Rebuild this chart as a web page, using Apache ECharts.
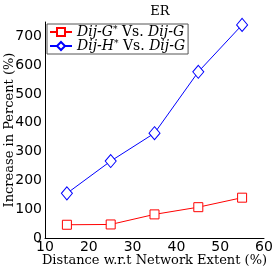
<!DOCTYPE html>
<html><head><meta charset="utf-8">
<script src="https://cdn.jsdelivr.net/npm/echarts@6/dist/echarts.min.js"></script>
<style>html,body{margin:0;padding:0;background:#fff}#c{width:274px;height:268px}</style>
</head><body><div id="c"></div>
<script>
const xValues = [15, 25, 35, 45, 55];
const seriesNames = ['Dij-G* Vs. Dij-G', 'Dij-H* Vs. Dij-G'];
const dijGStar = [46, 47, 82, 107, 140];
const dijHStar = [155, 267, 364, 577, 740];
const xTicks = [10, 20, 30, 40, 50, 60];
const yTicks = [0, 100, 200, 300, 400, 500, 600, 700];

const chart = echarts.init(document.getElementById('c'), null, {renderer: 'canvas'});
const serif = '"DejaVu Serif", "Liberation Serif", serif';
const sans = '"DejaVu Sans", sans-serif';
function pairs(ys) { return xValues.map((x, i) => [x, ys[i]]); }
const legendFmt = {
  'Dij-G* Vs. Dij-G': '{i|Dij-G}{s|*}{n| Vs. }{i|Dij-G}',
  'Dij-H* Vs. Dij-G': '{i|Dij-H}{s|*}{n| Vs. }{i|Dij-G}'
};
chart.setOption({
  animation: false,
  title: {text: 'ER', left: 155, top: 0, textAlign: 'center',
    textStyle: {fontFamily: serif, fontWeight: 'normal', fontSize: 13, color: '#000'}},
  grid: {left: 45, right: 10, top: 22, bottom: 30, containLabel: false, outerBoundsMode: 'none'},
  legend: {
    left: 47, top: 24, orient: 'vertical', itemGap: 0, itemWidth: 22, itemHeight: 10,
    padding: [1, 3, 1, 2], borderColor: '#555', borderWidth: 1, backgroundColor: '#fff',
    data: seriesNames,
    formatter: n => legendFmt[n],
    textStyle: {color: '#000', fontFamily: serif, fontSize: 14,
      rich: {
        i: {fontStyle: 'italic', fontFamily: serif, fontSize: 14, color: '#000'},
        s: {fontFamily: serif, fontSize: 9, color: '#000', verticalAlign: 'top', padding: [0, 0, 5, 0]},
        n: {fontFamily: serif, fontSize: 14, color: '#000'}
      }}
  },
  xAxis: {
    type: 'value', min: 10, max: 60, interval: 10,
    name: 'Distance w.r.t Network Extent (%)', nameLocation: 'middle', nameGap: 16, nameMoveOverlap: false,
    nameTextStyle: {fontFamily: serif, fontSize: 13, color: '#000'},
    axisLine: {lineStyle: {color: '#000'}},
    axisTick: {show: false},
    axisLabel: {fontFamily: sans, fontSize: 14, color: '#000', margin: 2,
      formatter: v => xTicks.includes(v) ? String(v) : ''},
    splitLine: {show: false}
  },
  yAxis: {
    type: 'value', min: 0, max: 750, interval: 100,
    name: 'Increase in Percent (%)', nameLocation: 'middle', nameGap: 29, nameRotate: 90, nameMoveOverlap: false,
    nameTextStyle: {fontFamily: serif, fontSize: 13, color: '#000'},
    axisLine: {show: true, lineStyle: {color: '#000'}},
    axisTick: {show: false},
    axisLabel: {fontFamily: sans, fontSize: 14, color: '#000', margin: 3,
      formatter: v => yTicks.includes(v) ? String(v) : ''},
    splitLine: {show: false}
  },
  series: [
    {name: seriesNames[0], type: 'line', data: pairs(dijGStar), symbol: 'rect', symbolSize: 9,
     lineStyle: {color: '#ff0000', width: 1}, itemStyle: {color: '#fff', borderColor: '#ff0000', borderWidth: 1},
     color: '#ff0000'},
    {name: seriesNames[1], type: 'line', data: pairs(dijHStar), symbol: 'diamond', symbolSize: [11, 13],
     lineStyle: {color: '#0000ff', width: 1}, itemStyle: {color: '#fff', borderColor: '#0000ff', borderWidth: 1},
     color: '#0000ff'}
  ]
});
</script></body></html>
